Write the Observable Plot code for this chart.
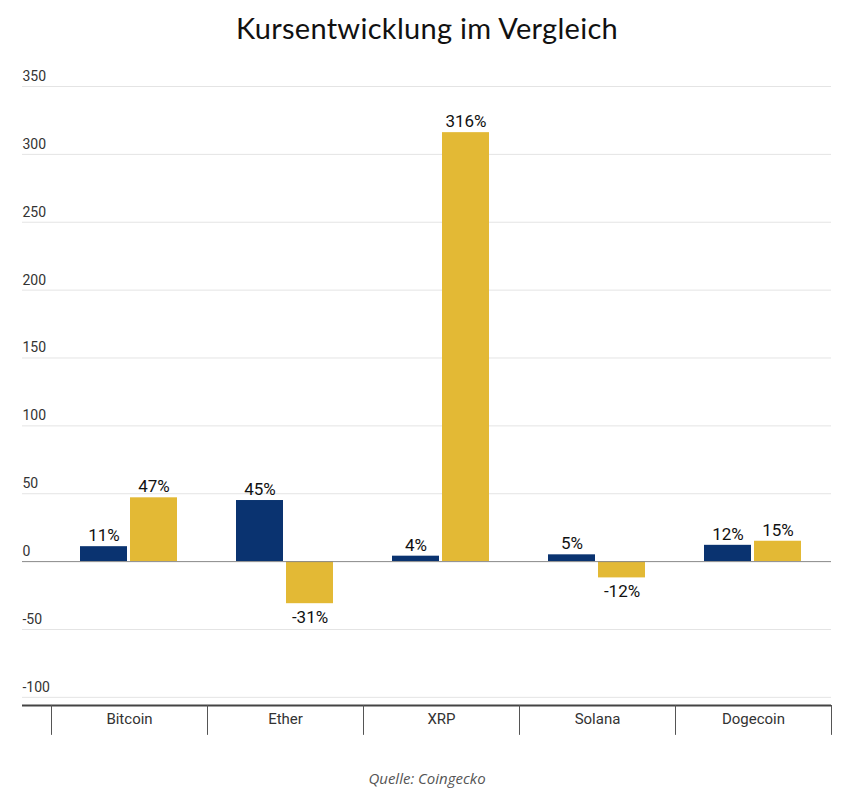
<!DOCTYPE html>
<html><head><meta charset="utf-8">
<script src="https://cdn.jsdelivr.net/npm/d3@7"></script>
<script src="https://cdn.jsdelivr.net/npm/@observablehq/plot@0.6"></script>
<style>
body{margin:0;background:#fff;font-family:Roboto,sans-serif}
#title{height:60px;line-height:56px;text-align:center;font-family:Lato,"Open Sans",sans-serif;font-size:29px;color:#111;letter-spacing:0.3px}
#cap{text-align:center;font-family:"Open Sans",sans-serif;font-style:italic;font-size:15px;color:#555;margin-top:18px}
</style></head><body>
<div id="title">Kursentwicklung im Vergleich</div>
<div id="chart"></div>
<div id="cap">Quelle: Coingecko</div>
<script>
const coins = ["Bitcoin","Ether","XRP","Solana","Dogecoin"];
const seriesA = [11,45,4,5,12];
const seriesB = [47,-31,316,-12,15];
const yTicks = [350,300,250,200,150,100,50,0,-50,-100];
const blue = "#0a3370", yellow = "#e3b935";
const bottom = -106;
const A = coins.map((c,i)=>({coin:c,v:seriesA[i]}));
const B = coins.map((c,i)=>({coin:c,v:seriesB[i]}));
const fmt = d => d.v + "%";
const lbl = (data, dx) => [
  Plot.text(data.filter(d=>d.v>=0), {x:"coin", y:"v", text:fmt, dx, dy:-11, fontSize:17, fill:"#111"}),
  Plot.text(data.filter(d=>d.v<0), {x:"coin", y:"v", text:fmt, dx, dy:14, fontSize:17, fill:"#111"})
];
const chart = Plot.plot({
  width:854, height:690, marginTop:26, marginBottom:45, marginLeft:22, marginRight:23,
  x:{domain:coins, range:[50,831], padding:0, axis:null},
  y:{domain:[bottom,350], axis:null},
  style:{fontFamily:"Roboto, sans-serif"},
  marks:[
    Plot.ruleY(yTicks.filter(t=>t!==0), {stroke:"#e4e4e4", strokeWidth:1}),
    Plot.text(yTicks, {y:d=>d, text:d=>String(d), frameAnchor:"left", textAnchor:"start", dy:-10, fontSize:14, fill:"#333"}),
    Plot.barY(A, {x:"coin", y:"v", fill:blue, insetLeft:29, insetRight:80}),
    Plot.barY(B, {x:"coin", y:"v", fill:yellow, insetLeft:79, insetRight:30}),
    Plot.ruleY([0], {stroke:"#888", strokeWidth:1}),
    ...lbl(A, -25.5), ...lbl(B, 24.5),
    Plot.ruleY([bottom], {stroke:"#444", strokeWidth:2}),
    Plot.ruleX(coins, {x:d=>d, y1:bottom, y2:bottom-22, dx:-78, stroke:"#555", clip:false}),
    Plot.ruleX(["Dogecoin"], {x:d=>d, y1:bottom, y2:bottom-22, dx:78, stroke:"#555", clip:false}),
    Plot.text(coins, {x:d=>d, y:()=>bottom, dy:14, text:d=>d, fontSize:15, fill:"#333"})
  ]
});
document.getElementById("chart").append(chart);
</script></body></html>
